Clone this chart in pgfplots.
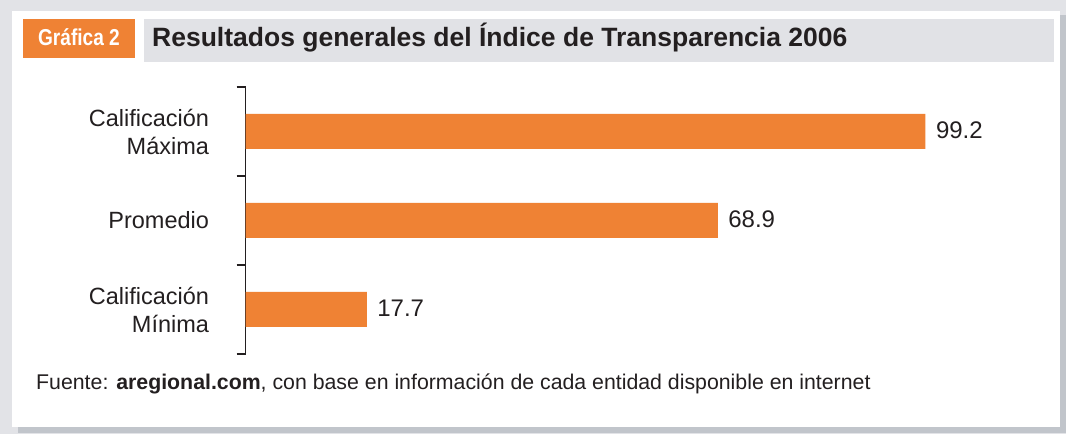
\documentclass[border=0pt]{standalone}
\usepackage{pgfplots}
\pgfplotsset{compat=1.18}
\usepackage{fontspec}
\setmainfont{Liberation Sans}
\newfontfamily\narrowfont[FakeStretch=0.83]{Liberation Sans}

\definecolor{barorange}{HTML}{EF8234}
\definecolor{framegray}{HTML}{E2E3E7}
\definecolor{titlegray}{HTML}{E1E2E6}
\definecolor{shadowgray}{HTML}{C1C5CB}
\definecolor{txt}{HTML}{231F20}

\begin{document}
\begin{tikzpicture}[x=1pt,y=1pt]
  % frame and title band
  \path[use as bounding box] (0,0) rectangle (1066,434);
  \fill[framegray] (0,0) rectangle (1066,434);
  \fill[shadowgray] (18,1) rectangle (1066,419);
  \fill[white] (12,7) rectangle (1060,423);
  \fill[barorange] (23,376) rectangle (135,415);
  \fill[titlegray] (144,372) rectangle (1054,415);
  \node[anchor=base, inner sep=0pt, text=white,
        font=\narrowfont\bfseries\fontsize{23}{27}\selectfont] at (79,388) {Gráfica 2};
  \node[anchor=base west, inner sep=0pt, text=txt,
        font=\bfseries\fontsize{26.5}{30}\selectfont] at (152,387)
        {Resultados generales del Índice de Transparencia 2006};
  \node[anchor=base west, inner sep=0pt, text=txt,
        font=\fontsize{21.3}{25}\selectfont] at (36,45)
        {Fuente: \textbf{aregional.com}, con base en información de cada entidad disponible en internet};

  \begin{axis}[
    at={(245.5pt,80pt)}, anchor=south west,
    scale only axis, width=754pt, height=267pt,
    xbar, bar width=35pt,
    xmin=0, xmax=110, ymin=-0.5, ymax=2.5,
    axis x line=none,
    axis y line*=left,
    y axis line style={line width=1.3pt, color=txt},
    ytick={0,1,2},
    yticklabels={{Calificación\\Mínima},{Promedio},{Calificación\\Máxima}},
    major tick length=0pt,
    minor ytick={-0.5,0.5,1.5,2.5},
    minor tick length=9pt, tick align=outside,
    minor tick style={line width=1.3pt, color=txt},
    yticklabel style={align=right, text=txt, xshift=-33pt,
      font=\fontsize{23.5}{28}\selectfont},
    nodes near coords,
    point meta=x,
    nodes near coords style={anchor=west, xshift=7pt, yshift=1pt, text=txt,
      font=\fontsize{24}{28}\selectfont,
      /pgf/number format/.cd, fixed, fixed zerofill, precision=1,
      assume math mode=true},
  ]
  \addplot[fill=barorange, draw=none] coordinates {(17.7,0) (68.9,1) (99.2,2)};
  \end{axis}
\end{tikzpicture}
\end{document}
